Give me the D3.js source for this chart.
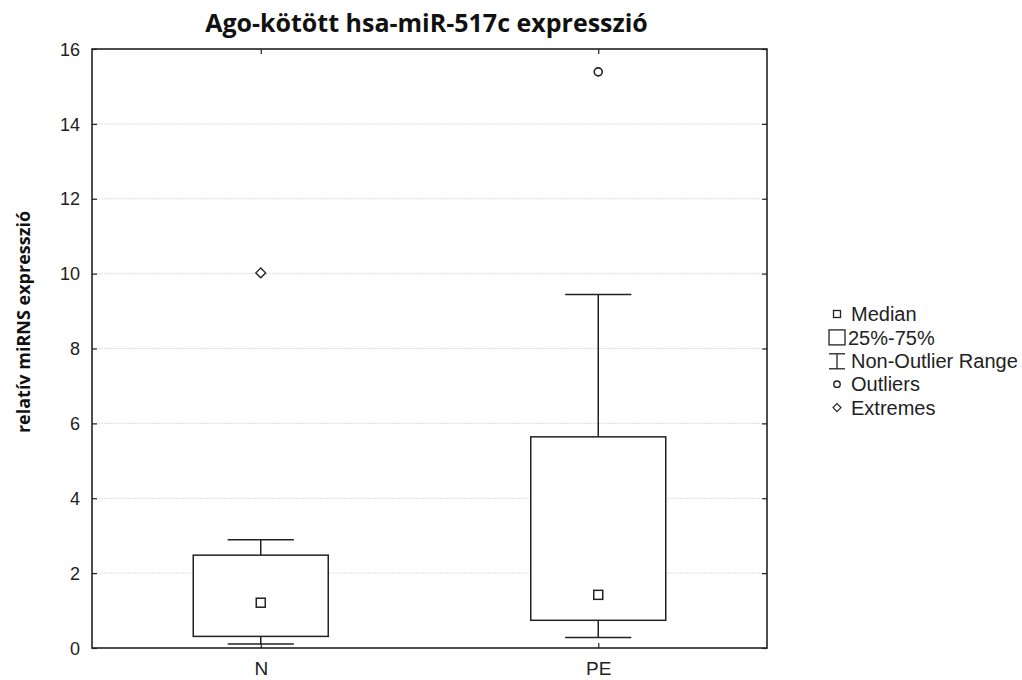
<!DOCTYPE html>
<html>
<head>
<meta charset="utf-8">
<script src="https://cdn.jsdelivr.net/npm/d3@7"></script>
<style>
  html, body { margin: 0; padding: 0; background: #fff; }
  svg { display: block; }
</style>
</head>
<body>
<svg id="chart" width="1022" height="680"></svg>
<script>
// Box-plot summary per group
const categories = ["N", "PE"];
const medians = [1.21, 1.42];
const q1 = [0.31, 0.74];
const q3 = [2.48, 5.64];
const whiskerLow = [0.11, 0.28];
const whiskerHigh = [2.89, 9.44];
const outlierCats = ["PE"];
const outlierVals = [15.39];
const extremeCats = ["N"];
const extremeVals = [10.02];
const yTicks = [0, 2, 4, 6, 8, 10, 12, 14, 16];
const legendLabels = ["Median", "25%-75%", "Non-Outlier Range", "Outliers", "Extremes"];

const titleText = "Ago-kötött hsa-miR-517c expresszió";
const yLabelText = "relatív miRNS expresszió";

const svg = d3.select("#chart");
const m = { left: 92, right: 767, top: 49, bottom: 648 };
const ink = "#222";
const tickFont = "'Liberation Sans', Arial, sans-serif";

const x = d3.scalePoint().domain(categories).range([m.left, m.right]).padding(0.5);
const y = d3.scaleLinear().domain([0, 16]).range([m.bottom, m.top]);
const plotW = m.right - m.left;
const boxW = plotW / 5;
const capHalf = boxW * 0.245;

// Light horizontal grid
svg.append("g")
  .selectAll("line")
  .data(yTicks.filter(t => t > 0 && t < 16))
  .join("line")
  .attr("x1", m.left).attr("x2", m.right)
  .attr("y1", d => y(d)).attr("y2", d => y(d))
  .attr("stroke", "#dcdcdc").attr("stroke-width", 1)
  .attr("stroke-dasharray", "2,1");

// Axes with inward ticks
const tickLen = 5;
const yAxisL = svg.append("g").attr("transform", `translate(${m.left},0)`)
  .call(d3.axisLeft(y).tickValues(yTicks).tickSize(-tickLen).tickPadding(12).tickFormat(d3.format("d")));
const yAxisR = svg.append("g").attr("transform", `translate(${m.right},0)`)
  .call(d3.axisRight(y).tickValues(yTicks).tickSize(-tickLen).tickFormat(""));
const xAxisB = svg.append("g").attr("transform", `translate(0,${m.bottom})`)
  .call(d3.axisBottom(x).tickSize(-tickLen).tickPadding(10));
const xAxisT = svg.append("g").attr("transform", `translate(0,${m.top})`)
  .call(d3.axisTop(x).tickSize(-tickLen).tickFormat(""));

[yAxisL, yAxisR, xAxisB, xAxisT].forEach(g => {
  g.select(".domain").remove();
  g.selectAll(".tick line").attr("stroke", ink).attr("stroke-width", 1.2);
  g.selectAll(".tick text").attr("fill", ink).style("font-family", tickFont).style("font-size", "18px");
});
yAxisL.selectAll(".tick text").attr("dy", "0.34em");
xAxisB.selectAll(".tick text").attr("dy", "0.88em").style("font-size", "19px");

// Frame
svg.append("rect")
  .attr("x", m.left).attr("y", m.top)
  .attr("width", plotW).attr("height", m.bottom - m.top)
  .attr("fill", "none").attr("stroke", ink).attr("stroke-width", 1.6);

// Boxes
const groups = svg.append("g").selectAll("g")
  .data(categories.map((c, i) => ({ c, i })))
  .join("g");

groups.append("line") // upper whisker
  .attr("x1", d => x(d.c)).attr("x2", d => x(d.c))
  .attr("y1", d => y(q3[d.i])).attr("y2", d => y(whiskerHigh[d.i]))
  .attr("stroke", ink).attr("stroke-width", 1.5);
groups.append("line") // lower whisker
  .attr("x1", d => x(d.c)).attr("x2", d => x(d.c))
  .attr("y1", d => y(q1[d.i])).attr("y2", d => y(whiskerLow[d.i]))
  .attr("stroke", ink).attr("stroke-width", 1.5);
groups.append("line") // upper cap
  .attr("x1", d => x(d.c) - capHalf).attr("x2", d => x(d.c) + capHalf)
  .attr("y1", d => y(whiskerHigh[d.i])).attr("y2", d => y(whiskerHigh[d.i]))
  .attr("stroke", ink).attr("stroke-width", 1.5);
groups.append("line") // lower cap
  .attr("x1", d => x(d.c) - capHalf).attr("x2", d => x(d.c) + capHalf)
  .attr("y1", d => y(whiskerLow[d.i])).attr("y2", d => y(whiskerLow[d.i]))
  .attr("stroke", ink).attr("stroke-width", 1.5);
groups.append("rect") // interquartile box
  .attr("x", d => x(d.c) - boxW / 2).attr("width", boxW)
  .attr("y", d => y(q3[d.i])).attr("height", d => y(q1[d.i]) - y(q3[d.i]))
  .attr("fill", "#fff").attr("stroke", ink).attr("stroke-width", 1.5);
groups.append("rect") // median marker
  .attr("x", d => x(d.c) - 4.5).attr("y", d => y(medians[d.i]) - 4.5)
  .attr("width", 9).attr("height", 9)
  .attr("fill", "#fff").attr("stroke", ink).attr("stroke-width", 1.5);

// Outliers (circles) and extremes (diamonds)
svg.append("g").selectAll("circle")
  .data(outlierVals.map((v, i) => ({ c: outlierCats[i], v })))
  .join("circle")
  .attr("cx", d => x(d.c)).attr("cy", d => y(d.v)).attr("r", 4)
  .attr("fill", "#fff").attr("stroke", ink).attr("stroke-width", 1.6);

const diamond = d3.symbol().type(d3.symbolDiamond2).size(60);
svg.append("g").selectAll("path")
  .data(extremeVals.map((v, i) => ({ c: extremeCats[i], v })))
  .join("path")
  .attr("d", diamond)
  .attr("transform", d => `translate(${x(d.c)},${y(d.v)})`)
  .attr("fill", "#fff").attr("stroke", ink).attr("stroke-width", 1.4);

// Title
svg.append("text")
  .attr("x", (m.left + m.right) / 2 - 3).attr("y", 32)
  .attr("text-anchor", "middle")
  .style("font-family", "'Open Sans', sans-serif").style("font-weight", "bold").style("font-size", "25px")
  .attr("fill", "#111")
  .text(titleText);

// Y axis title
svg.append("text")
  .attr("transform", `translate(30,322) rotate(-90)`)
  .attr("text-anchor", "middle")
  .style("font-family", "'Open Sans', sans-serif").style("font-weight", "bold").style("font-size", "18px")
  .attr("fill", "#111")
  .text(yLabelText);

// Legend
const lgX = 837, lgY0 = 314, lgStep = 23.4, lgText = 851;
const lg = svg.append("g");
const lgY = i => lgY0 + i * lgStep;
lg.append("rect").attr("x", lgX - 3.5).attr("y", lgY(0) - 3.5).attr("width", 7).attr("height", 7)
  .attr("fill", "#fff").attr("stroke", ink).attr("stroke-width", 1.3);
lg.append("rect").attr("x", lgX - 8).attr("y", lgY(1) - 7.5).attr("width", 16).attr("height", 15)
  .attr("fill", "#fff").attr("stroke", ink).attr("stroke-width", 1.3);
lg.append("line").attr("x1", lgX).attr("x2", lgX).attr("y1", lgY(2) - 7).attr("y2", lgY(2) + 8)
  .attr("stroke", ink).attr("stroke-width", 1.3);
lg.append("line").attr("x1", lgX - 8).attr("x2", lgX + 8).attr("y1", lgY(2) - 7).attr("y2", lgY(2) - 7)
  .attr("stroke", ink).attr("stroke-width", 1.3);
lg.append("line").attr("x1", lgX - 8).attr("x2", lgX + 8).attr("y1", lgY(2) + 8).attr("y2", lgY(2) + 8)
  .attr("stroke", ink).attr("stroke-width", 1.3);
lg.append("circle").attr("cx", lgX).attr("cy", lgY(3)).attr("r", 3.2)
  .attr("fill", "#fff").attr("stroke", ink).attr("stroke-width", 1.4);
lg.append("path").attr("d", d3.symbol().type(d3.symbolDiamond2).size(40))
  .attr("transform", `translate(${lgX},${lgY(4)})`)
  .attr("fill", "#fff").attr("stroke", ink).attr("stroke-width", 1.2);
lg.selectAll("text").data(legendLabels).join("text")
  .attr("x", (d, i) => i === 1 ? lgText - 3 : lgText)
  .attr("y", (d, i) => lgY(i)).attr("dy", "0.36em")
  .style("font-family", tickFont).style("font-size", "20px")
  .attr("fill", ink)
  .text(d => d);
</script>
</body>
</html>
